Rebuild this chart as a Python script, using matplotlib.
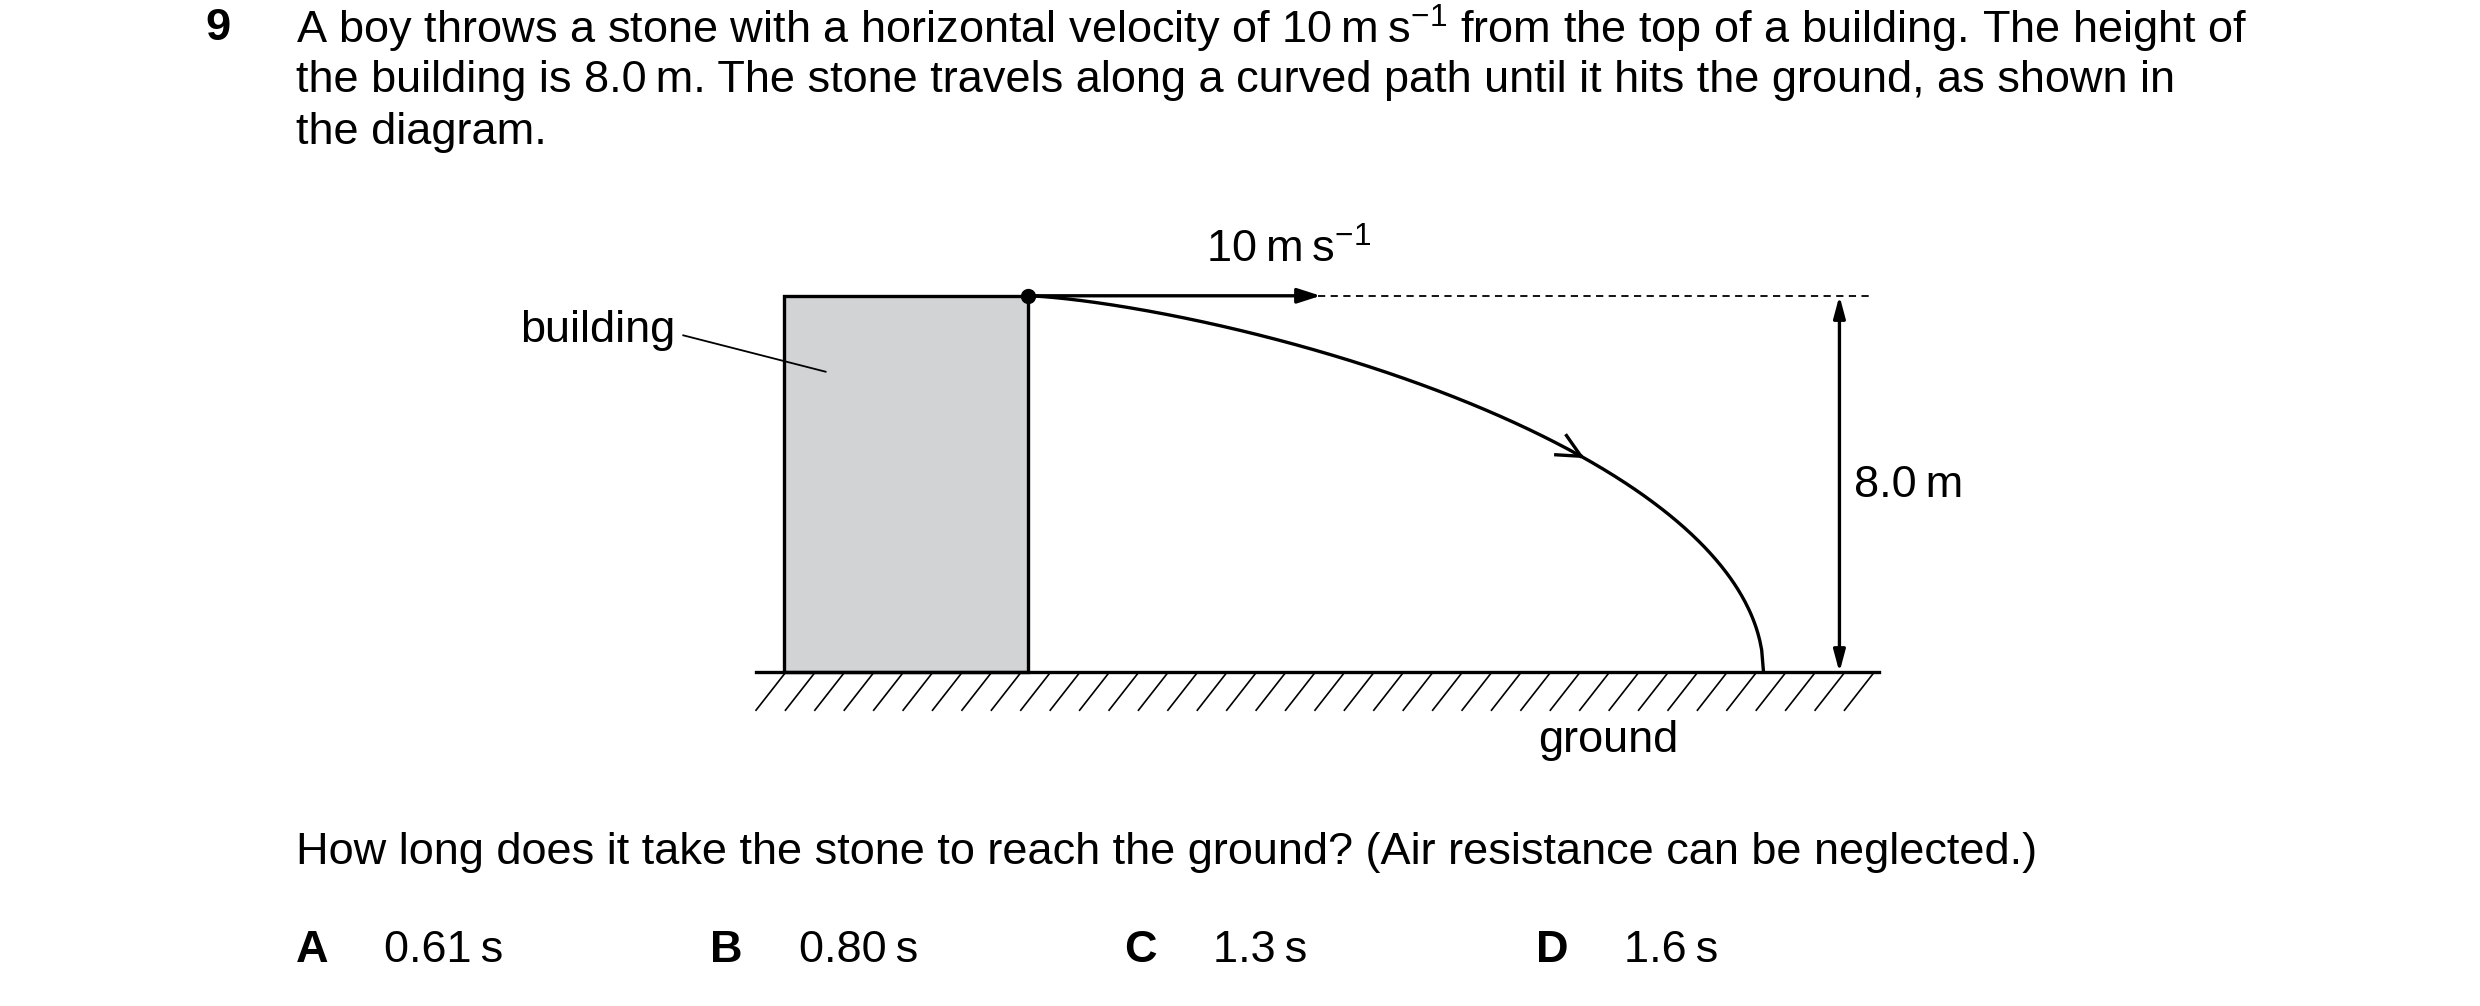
import numpy as np
import matplotlib
matplotlib.use("Agg")
import matplotlib.pyplot as plt

plt.rcParams['font.family'] = ['Liberation Sans', 'DejaVu Sans']
plt.rcParams['mathtext.fontset'] = 'custom'
plt.rcParams['mathtext.rm'] = 'Liberation Sans'
plt.rcParams['mathtext.it'] = 'Liberation Sans'

question_number = "9"
question_lines = [
    "A boy throws a stone with a horizontal velocity of 10\u2009m\u2009s$^{\u22121}$ from the top of a building. The height of",
    "the building is 8.0\u2009m. The stone travels along a curved path until it hits the ground, as shown in",
    "the diagram.",
]
velocity_label = "10\u2009m\u2009s$^{\u22121}$"
height_label = "8.0\u2009m"
prompt = "How long does it take the stone to reach the ground? (Air resistance can be neglected.)"
option_letters = ["A", "B", "C", "D"]
option_values = ["0.61\u2009s", "0.80\u2009s", "1.3\u2009s", "1.6\u2009s"]

S = 2480 / 1568
fig = plt.figure(figsize=(24.8, 10.06), dpi=100)
ax = fig.add_axes([0, 0, 1, 1])
ax.set_xlim(0, 1568)
ax.set_ylim(636, 0)
ax.axis('off')
fs = 32.5
lw = 2.4
k = 'black'

ax.text(130, 18, question_number, fontsize=fs, fontweight='bold', va='center')
for i, ln in enumerate(question_lines):
    ax.text(187, 18 + i * 33, ln, fontsize=fs, va='center')

# building
ax.add_patch(plt.Rectangle((496, 187), 154, 238, facecolor='#d1d3d4', edgecolor=k, lw=lw, zorder=2))
ax.plot([478, 1188], [425, 425], color=k, lw=lw, zorder=3)
for x in np.arange(496, 1190, 18.6):
    ax.plot([x, x - 18], [426, 449], color=k, lw=1.2)
ax.plot([432, 522], [212, 235], color=k, lw=1.3)
ax.text(427, 209, "building", fontsize=fs, va='center', ha='right')

# velocity arrow and dashed line
ax.annotate("", xy=(835, 187), xytext=(650, 187),
            arrowprops=dict(arrowstyle='-|>,head_length=1.4,head_width=0.45', color=k, lw=lw, shrinkA=0, shrinkB=0))
ax.plot([833, 1185], [187, 187], color=k, lw=1.3, ls=(0, (4, 3)))
ax.plot([650], [187], 'o', color=k, ms=10, zorder=5)
ax.text(815, 158, velocity_label, fontsize=fs, ha='center', va='center')

# trajectory
u = np.linspace(0, 1, 400)
v = 1 - np.sqrt(1 - u ** 1.4)
xs = 650 + 465 * u
ys = 187 + 238 * v
ax.plot(xs, ys, color=k, lw=lw)
i = np.argmin(abs(xs - 1000))
dx, dy = xs[i + 3] - xs[i - 3], ys[i + 3] - ys[i - 3]
n = np.hypot(dx, dy); dx, dy = dx / n, dy / n
L = 16
for sgn in (1, -1):
    ang = np.arctan2(dy, dx) + np.pi + sgn * 0.45
    ax.plot([xs[i], xs[i] + L * np.cos(ang)], [ys[i], ys[i] + L * np.sin(ang)], color=k, lw=lw)

# height arrow
ax.annotate("", xy=(1163, 187), xytext=(1163, 425),
            arrowprops=dict(arrowstyle='<|-|>,head_length=1.3,head_width=0.35', color=k, lw=lw, shrinkA=0, shrinkB=0))
ax.text(1172, 307, height_label, fontsize=fs, va='center')
ax.text(1017, 468, "ground", fontsize=fs, ha='center', va='center')

ax.text(187, 539, prompt, fontsize=fs, va='center')
letter_x = [187, 449, 711, 971]
for lx, L_, val in zip(letter_x, option_letters, option_values):
    ax.text(lx, 601, L_, fontsize=fs, fontweight='bold', va='center')
    ax.text(lx + 56, 601, val, fontsize=fs, va='center')

fig.savefig("out.png", dpi=100)
